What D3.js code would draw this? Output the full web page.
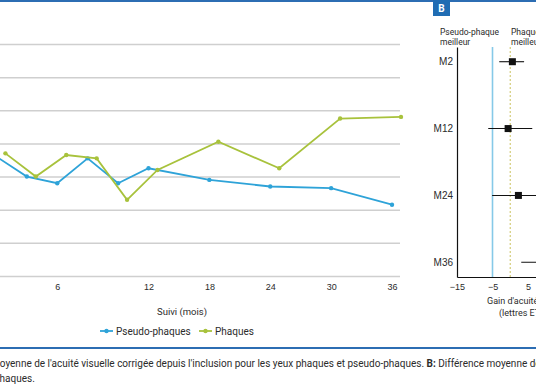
<!DOCTYPE html>
<html>
<head>
<meta charset="utf-8">
<script src="https://cdn.jsdelivr.net/npm/d3@7"></script>
<style>
  body { margin: 0; background: #fff; }
  svg { display: block; font-family: Roboto, "Open Sans", sans-serif; }
  .grid line { stroke: #cfcfcf; stroke-width: 1.5; }
  .grid path { display: none; }
</style>
</head>
<body>
<div id="chart"></div>
<script>
// Panel A : variation moyenne de l'acuité (lettres) par visite
const months = [2, 4, 6, 8, 10, 12, 18, 24, 30, 36];
const pseudoPhaques = [1.2, 0, -0.4, 1.1, -0.4, 0.5, -0.2, -0.6, -0.7, -1.7];
const phaques = [1.4, 0, 1.3, 1.1, -1.4, 0.4, 2.1, 0.5, 3.5, 3.6];
const gridValues = [-6, -4, -2, 0, 2, 4, 6, 8];
const monthTicks = [6, 12, 18, 24, 30, 36];

// Panel B : différence moyenne (phaques - pseudo-phaques), IC 95 %
const visits = ['M2', 'M12', 'M24', 'M36'];
const diffMean = [0.6, -0.6, 2.3, 10.5];
const diffLow = [-3.1, -6.2, -5.1, 3.1];
const diffHigh = [3.9, 6.2, 9.8, 17.9];
const gainTicks = [-15, -5, 5, 15, 25];
const marginValue = -5;
const nullValue = 0;

const width = 536;
const height = 386;
const blue = '#2ea3d8';
const green = '#a8c23c';
const rule = '#2c6db3';
const ink = '#2b2b2b';

const svg = d3.select('#chart')
  .append('svg')
  .attr('width', width)
  .attr('height', height);

// top and bottom rules of the figure
svg.append('line')
  .attr('x1', 0).attr('x2', width)
  .attr('y1', 1).attr('y2', 1)
  .attr('stroke', rule).attr('stroke-width', 2);

svg.append('line')
  .attr('x1', 0).attr('x2', width)
  .attr('y1', 348).attr('y2', 348)
  .attr('stroke', rule).attr('stroke-width', 2);

// ---------- Panel A ----------
// first year is shown with a wider spacing than the following years
const xA = d3.scaleLinear()
  .domain([0, 12, 36])
  .range([-34, 148.5, 392]);

const yA = d3.scaleLinear()
  .domain([-6, 8])
  .range([276, 44]);

const dodge = 9; // the phaque series is shifted right a little

svg.append('g')
  .attr('class', 'grid')
  .attr('transform', 'translate(400,0)')
  .call(d3.axisRight(yA).tickValues(gridValues).tickSize(-440).tickFormat(''));

const xAxisA = svg.append('g')
  .attr('transform', 'translate(0,276)')
  .call(d3.axisBottom(xA).tickValues(monthTicks).tickSize(0).tickPadding(8));
xAxisA.select('.domain').remove();
xAxisA.selectAll('text')
  .style('font-size', '9px')
  .attr('fill', ink);

const series = [
  { name: 'Pseudo-phaques', color: blue, shift: 0, values: pseudoPhaques },
  { name: 'Phaques', color: green, shift: dodge, values: phaques },
];

const line = d3.line()
  .x(d => d.x)
  .y(d => yA(d.v));

series.forEach(s => {
  const pts = months.map((m, i) => ({ x: xA(m) + s.shift, v: s.values[i] }));

  svg.append('path')
    .datum(pts)
    .attr('d', line)
    .attr('fill', 'none')
    .attr('stroke', s.color)
    .attr('stroke-width', 1.8);

  svg.append('g')
    .selectAll('circle')
    .data(pts)
    .join('circle')
    .attr('cx', d => d.x)
    .attr('cy', d => yA(d.v))
    .attr('r', 2.2)
    .attr('fill', s.color);
});

svg.append('text')
  .attr('x', 182)
  .attr('y', 315)
  .attr('text-anchor', 'middle')
  .style('font-size', '9.5px')
  .attr('fill', ink)
  .text('Suivi (mois)');

// legend
const legendX = [100, 199];
const legend = svg.selectAll('g.legend')
  .data(series)
  .join('g')
  .attr('class', 'legend')
  .attr('transform', (d, i) => `translate(${legendX[i]},331)`);

legend.append('line')
  .attr('x1', 0).attr('x2', 13)
  .attr('stroke', d => d.color)
  .attr('stroke-width', 1.8);
legend.append('circle')
  .attr('cx', 6.5)
  .attr('r', 2.2)
  .attr('fill', d => d.color);
legend.append('text')
  .attr('x', 16)
  .attr('y', 3.5)
  .style('font-size', '10px')
  .attr('fill', ink)
  .text(d => d.name);

// ---------- Panel B ----------
const xB = d3.scaleLinear()
  .domain([-15, 25])
  .range([457, 599]);

const yB = d3.scalePoint()
  .domain(visits)
  .range([47, 277])
  .padding(0.22);

// panel letter
svg.append('rect')
  .attr('x', 433).attr('y', 0)
  .attr('width', 17).attr('height', 16)
  .attr('fill', '#1f6cb3');
svg.append('text')
  .attr('x', 441.5).attr('y', 12)
  .attr('text-anchor', 'middle')
  .attr('fill', '#fff')
  .style('font-size', '10px')
  .style('font-weight', 700)
  .text('B');

// reference lines
svg.append('line')
  .attr('x1', xB(marginValue)).attr('x2', xB(marginValue))
  .attr('y1', 47).attr('y2', 277)
  .attr('stroke', '#86c9e8').attr('stroke-width', 1.6);

svg.append('line')
  .attr('x1', xB(nullValue)).attr('x2', xB(nullValue))
  .attr('y1', 47).attr('y2', 277)
  .attr('stroke', '#d3cc78').attr('stroke-width', 1.2)
  .attr('stroke-dasharray', '2,2');

const yAxisB = svg.append('g')
  .attr('transform', 'translate(457,0)')
  .call(d3.axisLeft(yB).tickSize(0).tickPadding(4));
yAxisB.select('.domain').attr('stroke', '#111').attr('stroke-width', 1.2);
yAxisB.selectAll('text')
  .style('font-size', '10px')
  .style('font-weight', 500)
  .attr('fill', ink);

const xAxisB = svg.append('g')
  .attr('transform', 'translate(0,277)')
  .call(d3.axisBottom(xB).tickValues(gainTicks).tickSize(0).tickPadding(7));
xAxisB.select('.domain').attr('stroke', '#111').attr('stroke-width', 1.2);
xAxisB.selectAll('text')
  .style('font-size', '9px')
  .attr('fill', ink);

// confidence intervals and means
const forest = visits.map((v, i) => ({ visit: v, mean: diffMean[i], low: diffLow[i], high: diffHigh[i] }));

svg.append('g')
  .selectAll('line')
  .data(forest)
  .join('line')
  .attr('x1', d => xB(d.low))
  .attr('x2', d => xB(d.high))
  .attr('y1', d => yB(d.visit))
  .attr('y2', d => yB(d.visit))
  .attr('stroke', '#111')
  .attr('stroke-width', 1.1);

svg.append('g')
  .selectAll('rect')
  .data(forest)
  .join('rect')
  .attr('x', d => xB(d.mean) - 3.5)
  .attr('y', d => yB(d.visit) - 3.5)
  .attr('width', 7)
  .attr('height', 7)
  .attr('fill', '#111');

// column headers
const headers = [
  { x: 440, lines: ['Pseudo-phaque', 'meilleur'] },
  { x: 511, lines: ['Phaque', 'meilleur'] },
];
headers.forEach(h => {
  h.lines.forEach((t, i) => {
    svg.append('text')
      .attr('x', h.x)
      .attr('y', 35 + i * 10)
      .style('font-size', '8.5px')
      .attr('fill', ink)
      .text(t);
  });
});

svg.append('text')
  .attr('x', 487).attr('y', 304)
  .style('font-size', '9px')
  .attr('fill', ink)
  .text("Gain d'acuité visuelle");
svg.append('text')
  .attr('x', 499).attr('y', 316)
  .style('font-size', '9px')
  .attr('fill', ink)
  .text('(lettres ETDRS)');

// caption
const caption = svg.append('text')
  .attr('x', -9).attr('y', 367)
  .style('font-size', '10px')
  .attr('fill', ink);
caption.append('tspan')
  .text("moyenne de l'acuité visuelle corrigée depuis l'inclusion pour les yeux phaques et pseudo-phaques. ");
caption.append('tspan')
  .style('font-weight', 700)
  .text('B:');
caption.append('tspan')
  .text(' Différence moyenne de gain entre yeux phaques et pseudo-');

svg.append('text')
  .attr('x', -6).attr('y', 382)
  .style('font-size', '10px')
  .attr('fill', ink)
  .text('phaques.');
</script>
</body>
</html>
